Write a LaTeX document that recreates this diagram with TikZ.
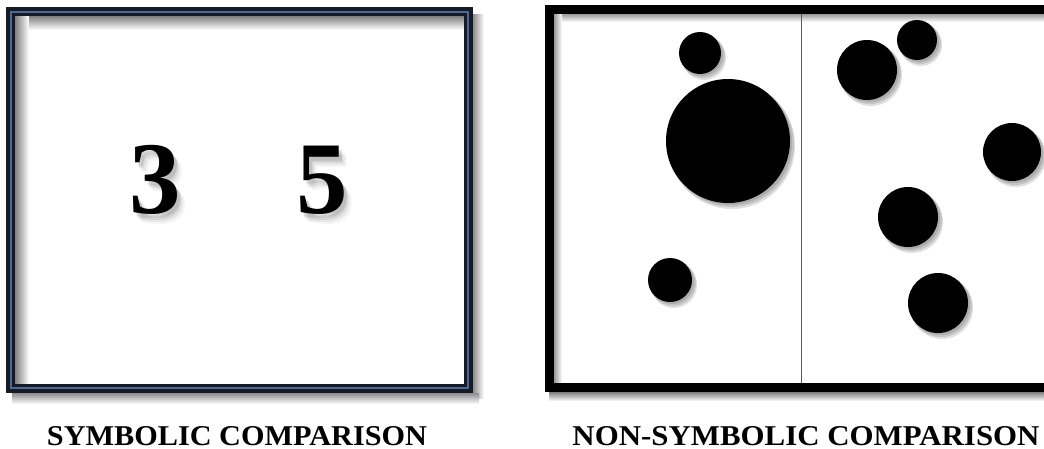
\documentclass[tikz,border=0pt]{standalone}
\usepackage{fontspec}
\setmainfont{Liberation Serif}
\usepackage{graphicx}
\begin{document}
\begin{tikzpicture}[x=1pt,y=-1pt,
  frameline/.style={draw=black!88!blue, line width=9pt},
  dot/.style={fill=black},
  dotshadow/.style={fill=black, opacity=0.12},
  lbl/.style={inner sep=0pt, anchor=center},
  digit/.style={inner sep=0pt, anchor=base, font=\fontsize{103}{103}\selectfont\bfseries}]
\useasboundingbox (0,0) rectangle (1044,448);
\fill[white] (0,0) rectangle (1044,448);

% ===== Left panel =====
\shade[left color=black!45, right color=white] (473,14) rectangle (484,398);
\shade[top color=black!45, bottom color=white] (12,393) rectangle (479,404);
\shade[left color=black!50, right color=white] (15,16) rectangle (29,384);
\shade[top color=black!50, bottom color=white] (29,16) rectangle (464,30);
\coordinate (LA) at (10.5,11.5);
\coordinate (LB) at (468.5,388.5);
\draw[frameline, draw={rgb,255:red,22;green,26;blue,36}] (LA) rectangle (LB);
\draw[line width=1.2pt, draw={rgb,255:red,75;green,105;blue,150}] (11,12) rectangle (468,388);

\foreach \dx/\dy/\op in {3/4/0.10,4/6/0.08,6/8/0.06,8/10/0.04}{
  \node[digit, opacity=\op] at (155+\dx,213+\dy) {3};
  \node[digit, opacity=\op] at (322+\dx,213+\dy) {5};
}
\node[digit] (three) at (155,213) {3};
\node[digit] (five) at (322,213) {5};

% ===== Right panel =====
\shade[top color=black!50, bottom color=white] (549,392) rectangle (1044,401);
\shade[top color=black!45, bottom color=white] (553,13) rectangle (1044,22);
\shade[left color=black!45, right color=white] (553,13) rectangle (562,383);
\coordinate (RA) at (549.5,9.5);
\coordinate (RB) at (1060,387.5);
\draw[frameline, draw=black] (RA) rectangle (RB);
\coordinate (DT) at (801,14);
\coordinate (DB) at (801,383);
\draw[line width=1pt, draw=black!65] (DT) -- (DB);

\foreach \cx/\cy/\r in {700/53/21, 728/141/62, 670/280/22, 867/70/30, 917/40/20, 1012/152/29, 908/217/30, 938/303/30}{
  \fill[dotshadow] (\cx+4,\cy+5) circle (\r+1);
  \fill[dotshadow] (\cx+3,\cy+3) circle (\r+1);
  \fill[dotshadow] (\cx+2,\cy+2) circle (\r);
  \fill[dot] (\cx,\cy) circle (\r);
}

% ===== Labels =====
\node[lbl] (symlbl) at (237,436.5) {\resizebox{380pt}{19pt}{\bfseries SYMBOLIC COMPARISON}};
\node[lbl] (nonlbl) at (806,436.5) {\resizebox{467pt}{19pt}{\bfseries NON-SYMBOLIC COMPARISON}};
\end{tikzpicture}
\end{document}
